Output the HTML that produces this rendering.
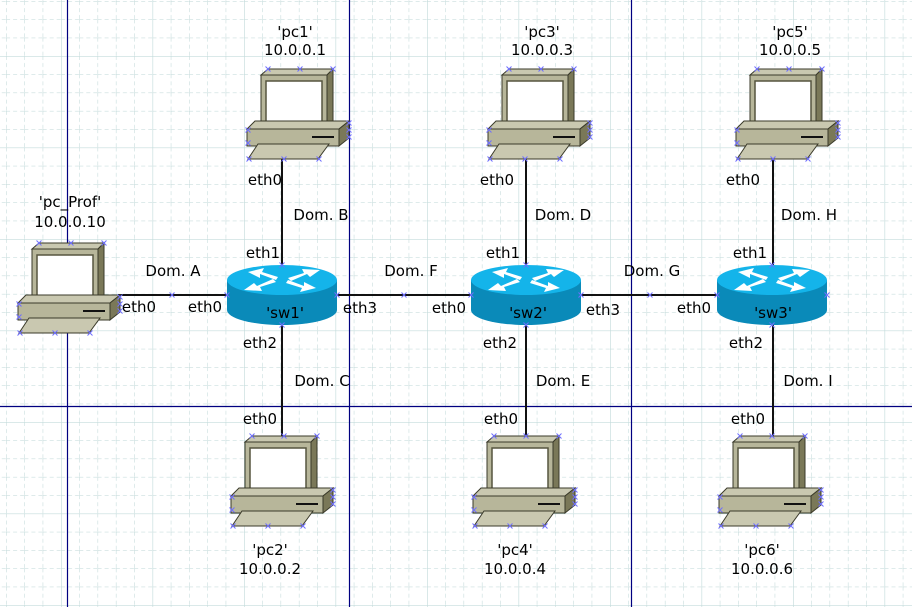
<!DOCTYPE html>
<html><head><meta charset="utf-8"><style>
html,body{margin:0;padding:0;background:#fff;}
svg{display:block;}
text{font-family:"DejaVu Sans","Liberation Sans",sans-serif;font-size:15px;fill:#000;}
</style></head><body>
<svg width="912" height="607" viewBox="0 0 912 607" xmlns="http://www.w3.org/2000/svg">
<defs>
<pattern id="minor" x="6.1" y="1.1" width="18.3" height="18.3" patternUnits="userSpaceOnUse">
<path d="M0 0V18.3M0 0H18.3" stroke="#bcd6d6" stroke-width="1" stroke-dasharray="4,3" fill="none"/>
</pattern>
<pattern id="major" x="61" y="56" width="91.5" height="91.5" patternUnits="userSpaceOnUse">
<path d="M0 0V91.5M0 0H91.5" stroke="#c4dcdc" stroke-width="1.3" fill="none"/>
</pattern>
<g id="x"><path d="M-2.5,-2.5L2.5,2.5M-2.5,2.5L2.5,-2.5" stroke="#6f6fff" stroke-width="1"/></g>
<g id="pc">
<polygon points="14,7 21,1 86,1 80,7" fill="#c9c8b0" stroke="#3a3a2a" stroke-width="1"/>
<polygon points="80,7 86,1 86,53 80,59" fill="#7a7858" stroke="#3a3a2a" stroke-width="1"/>
<rect x="14" y="7" width="66" height="52" fill="#b7b69a" stroke="#3a3a2a" stroke-width="1"/>
<rect x="19" y="13" width="56" height="41" fill="#fff" stroke="#56553f" stroke-width="1.5"/>
<polygon points="0,61 8,53 102,53 92,61" fill="#c9c8b0" stroke="#3a3a2a" stroke-width="1"/>
<polygon points="92,61 102,53 102,70 92,78" fill="#7a7858" stroke="#3a3a2a" stroke-width="1"/>
<rect x="0" y="61" width="92" height="17" fill="#b7b69a" stroke="#3a3a2a" stroke-width="1"/>
<line x1="65" y1="69" x2="87" y2="69" stroke="#111" stroke-width="2"/>
<polygon points="1,91 11,76 82,76 71,91" fill="#c9c8b0" stroke="#3a3a2a" stroke-width="1"/>
<use href="#x" x="21" y="1"/><use href="#x" x="53" y="1"/><use href="#x" x="86" y="1"/>
<use href="#x" x="1" y="62"/><use href="#x" x="1" y="75"/>
<use href="#x" x="102" y="55"/><use href="#x" x="102" y="62"/><use href="#x" x="102" y="69"/>
<use href="#x" x="2" y="91"/><use href="#x" x="37" y="91"/><use href="#x" x="72" y="91"/>
</g>
<g id="sw">
<path d="M-55,0 L-55,30 A55,15 0 0 0 55,30 L55,0 Z" fill="#0a8ab9"/>
<ellipse cx="0" cy="0" rx="55" ry="15" fill="#14b4ea"/>
<g fill="#fff">
<polygon points="-4,-3 -20,-8 -18,-12 -34,-8 -22,-2 -22,-6 -6,0"/>
<polygon points="4,3 20,8 18,12 34,8 22,2 22,6 6,0"/>
<polygon points="6,-2 22,-7 20,-11 38,-10 28,-3 25,-6 9,1"/>
<polygon points="-6,2 -22,7 -20,11 -38,10 -28,3 -25,6 -9,-1"/>
</g>
<use href="#x" x="0" y="-15"/><use href="#x" x="-55" y="15"/><use href="#x" x="55" y="15"/><use href="#x" x="0" y="45"/>
</g>
</defs>
<rect width="912" height="607" fill="#fff"/>
<rect width="912" height="607" fill="url(#minor)"/>
<rect width="912" height="607" fill="url(#major)"/>
<g stroke="#000080" stroke-width="1.2">
<line x1="67.5" y1="0" x2="67.5" y2="607"/>
<line x1="349.5" y1="0" x2="349.5" y2="607"/>
<line x1="631.5" y1="0" x2="631.5" y2="607"/>
<line x1="0" y1="406.5" x2="912" y2="406.5"/>
</g>
<g stroke="#111" stroke-width="2">
<line x1="118" y1="295" x2="227" y2="295"/>
<line x1="337" y1="295" x2="471" y2="295"/>
<line x1="581" y1="295" x2="718" y2="295"/>
<line x1="282" y1="159" x2="282" y2="265"/><line x1="282" y1="325" x2="282" y2="436"/>
<line x1="526" y1="159" x2="526" y2="265"/><line x1="526" y1="325" x2="526" y2="436"/>
<line x1="773" y1="159" x2="773" y2="265"/><line x1="773" y1="325" x2="773" y2="436"/>
</g>
<use href="#x" x="172" y="295"/><use href="#x" x="404" y="295"/><use href="#x" x="650" y="295"/>
<use href="#pc" x="247" y="68"/>
<use href="#pc" x="488" y="68"/>
<use href="#pc" x="736" y="68"/>
<use href="#pc" x="231" y="435"/>
<use href="#pc" x="473" y="435"/>
<use href="#pc" x="719" y="435"/>
<use href="#pc" x="18" y="242"/>
<use href="#sw" x="282" y="280"/>
<use href="#sw" x="526" y="280"/>
<use href="#sw" x="772" y="280"/>
<g text-anchor="middle">
<text x="70" y="207">'pc_Prof'</text><text x="70" y="227">10.0.0.10</text>
<text x="295" y="37">'pc1'</text><text x="295" y="55">10.0.0.1</text>
<text x="542" y="37">'pc3'</text><text x="542" y="55">10.0.0.3</text>
<text x="790" y="37">'pc5'</text><text x="790" y="55">10.0.0.5</text>
<text x="270" y="555">'pc2'</text><text x="270" y="574">10.0.0.2</text>
<text x="515" y="555">'pc4'</text><text x="515" y="574">10.0.0.4</text>
<text x="762" y="555">'pc6'</text><text x="762" y="574">10.0.0.6</text>
<text x="265" y="185">eth0</text><text x="497" y="185">eth0</text><text x="743" y="185">eth0</text>
<text x="260" y="424">eth0</text><text x="501" y="424">eth0</text><text x="748" y="424">eth0</text>
<text x="321" y="220">Dom. B</text><text x="563" y="220">Dom. D</text><text x="809" y="220">Dom. H</text>
<text x="322" y="386">Dom. C</text><text x="563" y="386">Dom. E</text><text x="808" y="386">Dom. I</text>
<text x="263" y="258">eth1</text><text x="503" y="258">eth1</text><text x="750" y="258">eth1</text>
<text x="260" y="348">eth2</text><text x="500" y="348">eth2</text><text x="746" y="348">eth2</text>
<text x="173" y="276">Dom. A</text><text x="139" y="312">eth0</text><text x="205" y="312">eth0</text>
<text x="411" y="276">Dom. F</text><text x="360" y="313">eth3</text><text x="449" y="313">eth0</text>
<text x="652" y="276">Dom. G</text><text x="603" y="315">eth3</text><text x="694" y="313">eth0</text>
<text x="285" y="318">'sw1'</text><text x="528" y="318">'sw2'</text><text x="773" y="318">'sw3'</text>
</g>
</svg>
</body></html>
